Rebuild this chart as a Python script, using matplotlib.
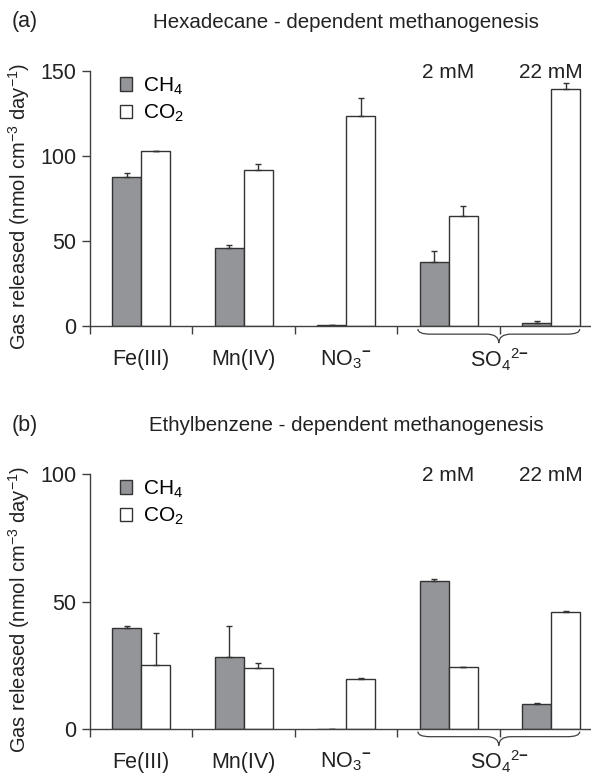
import numpy as np
import matplotlib
matplotlib.use("Agg")
import matplotlib.pyplot as plt
from matplotlib.patches import Patch, PathPatch
from matplotlib.path import Path

plt.rcParams['font.family'] = ['Liberation Sans', 'DejaVu Sans']
plt.rcParams['mathtext.fontset'] = 'custom'
plt.rcParams['mathtext.rm'] = 'Liberation Sans'
plt.rcParams['mathtext.it'] = 'Liberation Sans:italic'
plt.rcParams['mathtext.bf'] = 'Liberation Sans:bold'
plt.rcParams['font.size'] = 15

# groups: Fe(III), Mn(IV), NO3-, SO4 2 mM, SO4 22 mM
group_labels = ['Fe(III)', 'Mn(IV)', r'NO$_3$$^{\mathbf{-}}$']
sulfate_label = r'SO$_4$$^{2\mathbf{-}}$'
conc_labels = ['2 mM', '22 mM']

# (a) hexadecane
hex_ch4 = [87.5, 46.0, 0.8, 37.8, 1.9]
hex_ch4_err = [2.4, 1.8, 0.3, 6.8, 1.1]
hex_co2 = [102.8, 91.9, 123.8, 64.6, 139.7]
hex_co2_err = [0.3, 3.5, 10.6, 6.1, 3.1]

# (b) ethylbenzene
eth_ch4 = [39.5, 28.2, 0.0, 58.2, 9.9]
eth_ch4_err = [1.0, 12.3, 0.2, 0.6, 0.5]
eth_co2 = [25.1, 24.0, 19.5, 24.3, 46.0]
eth_co2_err = [12.4, 1.8, 0.6, 0.2, 0.3]

GREY = '#939598'
EDGE = '#333333'
AX = '#404040'
TXT = '#222222'


def brace(ax, x0, x1, ytop, ymid, ybot, r):
    xc = (x0 + x1) / 2
    verts = [(x0, ytop), (x0, ymid), (x0 + r, ymid),
             (xc - r, ymid), (xc, ymid), (xc, ybot),
             (xc, ymid), (xc + r, ymid),
             (x1 - r, ymid), (x1, ymid), (x1, ytop)]
    codes = [Path.MOVETO, Path.CURVE3, Path.CURVE3,
             Path.LINETO, Path.CURVE3, Path.CURVE3,
             Path.CURVE3, Path.CURVE3,
             Path.LINETO, Path.CURVE3, Path.CURVE3]
    p = PathPatch(Path(verts, codes), fill=False, edgecolor=AX, lw=0.9,
                  transform=ax.get_xaxis_transform(), clip_on=False)
    ax.add_patch(p)


def panel(ax, ch4, ch4_err, co2, co2_err, yticks, conc_y):
    x = np.arange(len(ch4))
    w = 0.283
    ax.bar(x - w / 2, ch4, w, color=GREY, edgecolor=EDGE, lw=1.0,
           yerr=[np.zeros(len(ch4)), ch4_err], capsize=2,
           error_kw=dict(ecolor=EDGE, elinewidth=1.0, capthick=1.0))
    ax.bar(x + w / 2, co2, w, color='white', edgecolor=EDGE, lw=1.0,
           yerr=[np.zeros(len(co2)), co2_err], capsize=2,
           error_kw=dict(ecolor=EDGE, elinewidth=1.0, capthick=1.0))
    ax.set_xlim(-0.5, 4.39)
    ax.set_ylim(0, yticks[-1])
    ax.set_yticks(yticks)
    ax.set_xticks([-0.5, 0.5, 1.5, 2.5, 3.5])
    ax.set_xticklabels([])
    for s in ['top', 'right']:
        ax.spines[s].set_visible(False)
    for s in ['left', 'bottom']:
        ax.spines[s].set_color(AX)
        ax.spines[s].set_linewidth(1.0)
    ax.tick_params(axis='both', colors=AX, labelcolor=TXT, length=6,
                   width=1.0, labelsize=15.5, pad=4)

    for i, lab in enumerate(group_labels):
        ax.text(i, -0.13, lab, transform=ax.get_xaxis_transform(),
                ha='center', va='center', color=TXT, fontsize=15.5)
    ax.text(3.5, -0.13, sulfate_label, transform=ax.get_xaxis_transform(),
            ha='center', va='center', color=TXT, fontsize=15.5)
    for i, lab in enumerate(conc_labels):
        ax.text(3 + i, conc_y, lab, ha='center', va='center', color=TXT,
                fontsize=15)

    brace(ax, 2.70, 4.28, -0.01, -0.03, -0.065, 0.12)

    ax.set_ylabel(r'Gas released (nmol cm$^{-3}$ day$^{-1}$)', color=TXT,
                  fontsize=14.5)
    ax.yaxis.set_label_coords(-0.115, 0.47)

    handles = [Patch(facecolor=GREY, edgecolor=EDGE, lw=1.0, label=r'CH$_4$'),
               Patch(facecolor='white', edgecolor=EDGE, lw=1.0, label=r'CO$_2$')]
    ax.legend(handles=handles, loc='upper left', bbox_to_anchor=(0.03, 1.04),
              frameon=False, handlelength=0.6, handleheight=0.6,
              handletextpad=0.5, labelspacing=0.3, borderpad=0.2,
              fontsize=15)


fig = plt.figure(figsize=(5.91, 7.74), dpi=100)
ax1 = fig.add_axes([0.1523, 0.5782, 0.8477, 0.3301])
ax2 = fig.add_axes([0.1523, 0.0581, 0.8477, 0.3295])

panel(ax1, hex_ch4, hex_ch4_err, hex_co2, hex_co2_err, [0, 50, 100, 150], 149)
panel(ax2, eth_ch4, eth_ch4_err, eth_co2, eth_co2_err, [0, 50, 100], 99.6)

fig.text(0.02, 1 - 22 / 774, '(a)', ha='left', va='center', fontsize=15.5, color=TXT)
fig.text(346 / 591, 1 - 22 / 774, 'Hexadecane - dependent methanogenesis',
         ha='center', va='center', fontsize=14.8, color=TXT)
fig.text(0.02, 1 - 425 / 774, '(b)', ha='left', va='center', fontsize=15.5, color=TXT)
fig.text(346 / 591, 1 - 425 / 774, 'Ethylbenzene - dependent methanogenesis',
         ha='center', va='center', fontsize=14.8, color=TXT)

fig.savefig('out.png', dpi=100)
